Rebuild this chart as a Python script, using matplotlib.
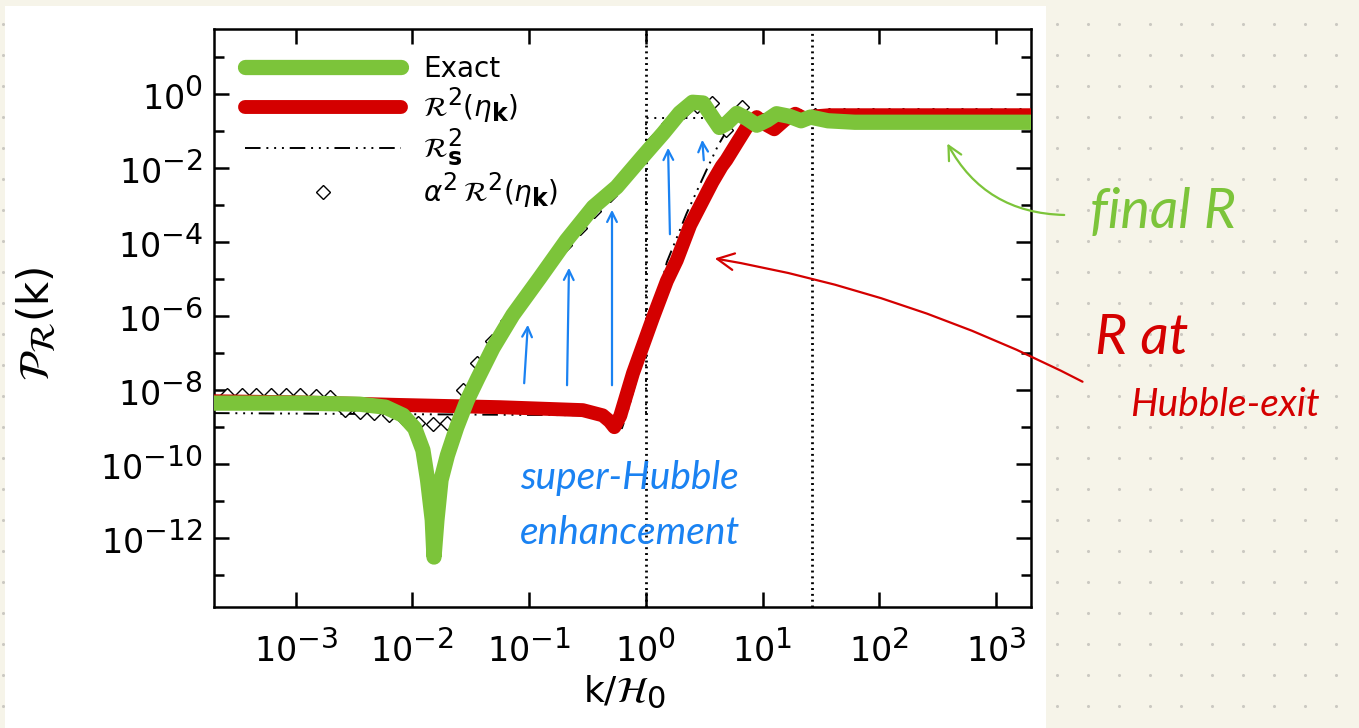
import numpy as np
import matplotlib
import matplotlib.pyplot as plt
import matplotlib._mathtext as mtext
from matplotlib.patches import Rectangle
from matplotlib.ticker import FixedLocator, NullFormatter, NullLocator, LogFormatterMathtext

# bigger superscripts, closer to the IDL look
mtext.SHRINK_FACTOR = 0.85

plt.rcParams['font.family'] = ['DejaVu Sans']
plt.rcParams['mathtext.fontset'] = 'dejavusans'

# ---- data (log10 k/H0, log10 P) ----
exact_logk = [-3.70, -2.96, -2.45, -2.23, -2.08, -1.98, -1.91, -1.87, -1.83, -1.815,
              -1.79, -1.755, -1.70, -1.62, -1.53, -1.44, -1.31, -1.14, -0.91, -0.68,
              -0.45, -0.25, -0.03, 0.15, 0.29, 0.40, 0.49, 0.57, 0.63, 0.69,
              0.78, 0.865, 0.95, 1.04, 1.12, 1.23, 1.33, 1.41, 1.56, 1.79, 2.36, 3.30]
exact_logp = [-8.35, -8.35, -8.38, -8.46, -8.68, -9.03, -9.62, -10.43, -11.51, -12.51,
              -11.51, -10.43, -9.76, -9.00, -8.27, -7.68, -6.86, -5.97, -4.97, -3.95,
              -3.05, -2.51, -1.70, -1.05, -0.51, -0.22, -0.24, -0.62, -0.90, -0.80,
              -0.52, -0.66, -0.84, -0.70, -0.53, -0.60, -0.72, -0.62, -0.72, -0.76, -0.76, -0.76]

exit_logk = [-3.70, -2.96, -2.11, -1.25, -0.54, -0.37, -0.31, -0.27, -0.22, -0.11,
             0.06, 0.18, 0.265, 0.38, 0.57, 0.65, 0.69, 0.78, 0.865, 0.95,
             1.02, 1.10, 1.19, 1.28, 1.36, 1.45, 1.575, 3.30]
exit_logp = [-8.30, -8.33, -8.40, -8.46, -8.54, -8.68, -8.84, -9.00, -8.70, -7.54,
             -6.05, -5.05, -4.49, -3.54, -2.38, -1.95, -1.78, -1.32, -0.89, -0.62,
             -0.81, -0.95, -0.70, -0.53, -0.66, -0.60, -0.57, -0.57]

rs_logk = [-3.70, -0.39, -0.265, -0.205, -0.16, -0.05, 0.18, 0.35, 0.52, 0.62,
           0.72, 0.85, 0.98, 3.30]
rs_logp = [-8.62, -8.68, -8.81, -9.03, -8.62, -7.38, -4.54, -3.22, -2.05, -1.38,
           -0.84, -0.59, -0.54, -0.54]
rs_step_logk = [0.0, 0.0, 0.63]
rs_step_logp = [-8.62, -0.65, -0.65]

alpha_logk = [-3.59, -3.46, -3.34, -3.21, -3.08, -2.96, -2.83, -2.71, -2.58, -2.45,
              -2.33, -2.20, -2.08, -1.95, -1.82, -1.70, -1.57, -1.45, -1.32, -1.19,
              -1.07, -0.94, -0.82, -0.69, -0.56, -0.44, -0.31, -0.19, -0.06, 0.06,
              0.19, 0.32, 0.44, 0.57, 0.69, 0.82, 0.94, 1.07, 1.20, 1.32,
              1.45, 1.57, 1.70, 1.82, 1.95, 2.08, 2.20, 2.33, 2.46, 2.58,
              2.71, 2.83, 2.96, 3.08, 3.21]
alpha_logp = [-8.14, -8.14, -8.14, -8.14, -8.14, -8.14, -8.16, -8.19, -8.54, -8.59,
              -8.62, -8.68, -8.76, -8.89, -8.92, -8.89, -8.00, -7.27, -6.68, -6.14,
              -5.62, -5.11, -4.57, -4.08, -3.62, -3.16, -2.73, -2.27, -1.78, -1.27,
              -0.81, -0.49, -0.32, -0.24, -0.97, -0.35, -0.70, -0.59, -0.65, -0.59,
              -0.57, -0.57, -0.57, -0.57, -0.57, -0.57, -0.57, -0.57, -0.57, -0.57,
              -0.57, -0.57, -0.57, -0.57, -0.57]

vlines_k = [1.0, 10 ** 1.42]
xtick_dec = [-3, -2, -1, 0, 1, 2, 3]
ytick_dec = [-12, -10, -8, -6, -4, -2, 0]
yminor_dec = [-13, -11, -9, -7, -5, -3, -1, 1]

GREEN = '#7cc43a'
RED = '#d40000'
BLUE = '#1a82f2'

fig = plt.figure(figsize=(13.59, 7.28), dpi=100)
fig.patch.set_facecolor('#f6f4e9')

# notebook page behind the chart
bg = fig.add_axes([0, 0, 1, 1], zorder=0)
bg.set_xlim(0, 1359)
bg.set_ylim(728, 0)
bg.axis('off')
gx, gy = np.meshgrid(np.arange(3, 1359, 31), np.arange(24, 728, 31))
bg.scatter(gx.ravel(), gy.ravel(), s=5, color='#cbc9c2', linewidths=0)
bg.add_patch(Rectangle((5, 6), 1041, 722, facecolor='white', edgecolor='none', zorder=3))

ax = fig.add_axes([214 / 1359, 121 / 728, 817 / 1359, 578 / 728], zorder=1)
ax.set_xscale('log')
ax.set_yscale('log')

for kv in vlines_k:
    ax.axvline(kv, color='k', lw=2.0, dashes=(0.7, 1.4), zorder=1)

ax.plot(10 ** np.array(rs_logk), 10 ** np.array(rs_logp), color='k', lw=1.4,
        dashes=(8, 3, 1, 3, 1, 3, 1, 3), zorder=2, label=r'$\mathcal{R}^2_{\mathbf{s}}$')
ax.plot(10 ** np.array(rs_step_logk), 10 ** np.array(rs_step_logp), color='k', lw=1.4,
        dashes=(1, 3), zorder=2)
ax.plot(10 ** np.array(alpha_logk), 10 ** np.array(alpha_logp), ls='none', marker='D',
        ms=7.5, mfc='white', mec='k', mew=1.0, zorder=3,
        label=r'$\alpha^2\,\mathcal{R}^2(\eta_\mathbf{k})$')
ax.plot(10 ** np.array(exit_logk), 10 ** np.array(exit_logp), color=RED, lw=10,
        solid_capstyle='round', solid_joinstyle='round', zorder=4,
        label=r'$\mathcal{R}^2(\eta_\mathbf{k})$')
ax.plot(10 ** np.array(exact_logk), 10 ** np.array(exact_logp), color=GREEN, lw=11,
        solid_capstyle='round', solid_joinstyle='round', zorder=5, label='Exact')

ax.set_xlim(10 ** -3.70, 10 ** 3.30)
ax.set_ylim(10 ** -13.86, 10 ** 1.76)

ax.xaxis.set_major_locator(FixedLocator([10.0 ** d for d in xtick_dec]))
ax.xaxis.set_minor_locator(NullLocator())
ax.xaxis.set_major_formatter(LogFormatterMathtext())
ax.yaxis.set_major_locator(FixedLocator([10.0 ** d for d in ytick_dec]))
ax.yaxis.set_minor_locator(FixedLocator([10.0 ** d for d in yminor_dec]))
ax.yaxis.set_major_formatter(LogFormatterMathtext())
ax.yaxis.set_minor_formatter(NullFormatter())

ax.tick_params(which='both', direction='in', top=True, right=True, width=1.8)
ax.tick_params(which='major', length=11, labelsize=24)
ax.tick_params(which='minor', length=7)
ax.tick_params(axis='x', pad=17)
ax.tick_params(axis='y', pad=8)
for sp in ax.spines.values():
    sp.set_linewidth(1.8)

ax.set_xlabel(r'$\mathrm{k}/\mathcal{H}_0$', fontsize=26)
ax.xaxis.set_label_coords(0.503, -0.115)
ax.set_ylabel(r'$\mathcal{P}_{\mathcal{R}}(\mathrm{k})$', fontsize=30)
ax.yaxis.set_label_coords(-0.19, 0.49)

h, l = ax.get_legend_handles_labels()
order = [3, 2, 0, 1]
ax.legend([h[i] for i in order], [l[i] for i in order], loc='upper left',
          bbox_to_anchor=(0.038, 0.955), frameon=False, fontsize=20,
          handlelength=5.6, handletextpad=0.8, labelspacing=0.08,
          borderpad=0, borderaxespad=0)

# hand-written notes on top
ov = fig.add_axes([0, 0, 1, 1], zorder=5)
ov.set_xlim(0, 1359)
ov.set_ylim(728, 0)
ov.axis('off')
ov.patch.set_alpha(0)

hand = dict(family='Lato', style='italic', weight='normal')

blue_arrows = [((524, 386), (528, 322)), ((567, 388), (569, 265)),
               ((612, 388), (612, 207)), ((670, 237), (668, 145)),
               ((704, 163), (702, 137))]
for tail, head in blue_arrows:
    ov.annotate('', xy=head, xytext=tail,
                arrowprops=dict(arrowstyle='->,head_length=0.7,head_width=0.35',
                                color=BLUE, lw=1.6))
ov.text(520, 478, 'super-Hubble', color=BLUE, fontsize=28, va='center', **hand)
ov.text(520, 533, 'enhancement', color=BLUE, fontsize=28, va='center', **hand)

ov.annotate('', xy=(712, 258), xytext=(1085, 383),
            arrowprops=dict(arrowstyle='->,head_length=1.2,head_width=0.6',
                            color=RED, lw=1.6, connectionstyle='arc3,rad=0.08'))
ov.text(1095, 338, 'R at', color=RED, fontsize=40, va='center', **hand)
ov.text(1130, 405, 'Hubble-exit', color=RED, fontsize=28, va='center', **hand)

ov.annotate('', xy=(946, 141), xytext=(1067, 215),
            arrowprops=dict(arrowstyle='->,head_length=1.0,head_width=0.5',
                            color=GREEN, lw=1.6, connectionstyle='arc3,rad=-0.3'))
ov.text(1090, 213, 'final R', color=GREEN, fontsize=40, va='center', **hand)

fig.savefig('out.png', dpi=100, facecolor=fig.get_facecolor())
